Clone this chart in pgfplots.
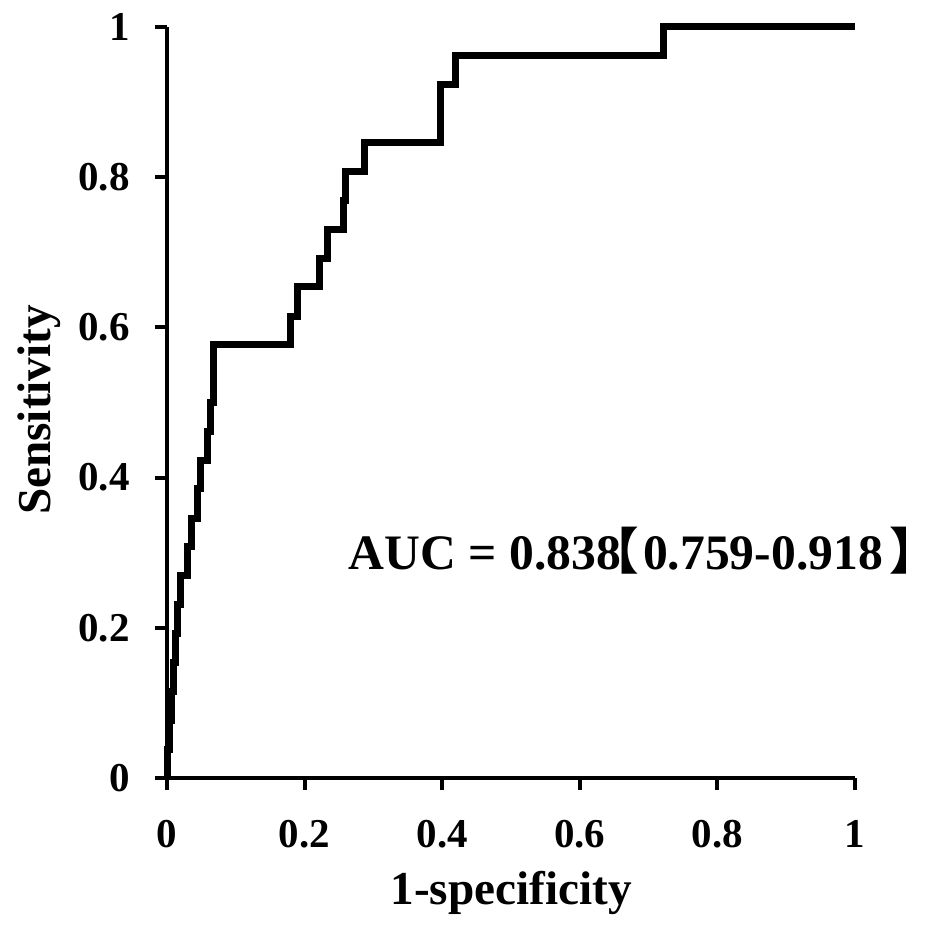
\documentclass[border=0pt]{standalone}
\usepackage{fontspec}
\setmainfont{Liberation Serif}
\newfontfamily\cjk{Noto Sans CJK SC}
\usepackage{pgfplots}
\pgfplotsset{compat=1.18}
\newdimen\glsb \newdimen\grsb
\def\tightchar#1{{\cjk\bfseries
  \glsb=\XeTeXglyphbounds1 \XeTeXcharglyph`#1\relax
  \grsb=\XeTeXglyphbounds3 \XeTeXcharglyph`#1\relax
  \kern-\glsb #1\kern-\grsb}}
\begin{document}
\begin{tikzpicture}
\path[use as bounding box] (0,0) rectangle (472.5pt,466.5pt);
\begin{axis}[
  at={(83.5pt,77.5pt)}, anchor=south west,
  width=344pt, height=375.5pt, scale only axis,
  xmin=0, xmax=1, ymin=0, ymax=1,
  clip=false,
  axis x line=bottom, axis y line=left,
  axis line style={line width=2pt, -},
  tick align=outside, major tick length=6pt,
  tick style={line width=2pt, black},
  xtick={0,0.2,0.4,0.6,0.8,1}, xticklabels={0,0.2,0.4,0.6,0.8,1},
  ytick={0,0.2,0.4,0.6,0.8,1}, yticklabels={0,0.2,0.4,0.6,0.8,1},
  ticklabel style={font=\fontsize{20.5pt}{24pt}\selectfont\bfseries, inner sep=0pt},
  yticklabel style={anchor=east, xshift=-12.5pt},
  xticklabel style={anchor=north, yshift=-15pt},
  xlabel={1-specificity}, ylabel={Sensitivity},
  label style={font=\fontsize{23.6pt}{28pt}\selectfont\bfseries, inner sep=0pt},
  xlabel style={at={(axis description cs:0.5,-0.169)}, anchor=base},
  ylabel style={at={(axis description cs:-0.170,0.49)}, anchor=base, rotate=0},
]
\addplot[black, line width=3.5pt, mark=none] coordinates {
(0,0) (0,0.038) (0.004,0.038) (0.004,0.077) (0.007,0.077) (0.007,0.115)
(0.009,0.115) (0.009,0.154) (0.012,0.154) (0.012,0.192) (0.015,0.192)
(0.015,0.231) (0.019,0.231) (0.019,0.269) (0.030,0.269) (0.030,0.308)
(0.035,0.308) (0.035,0.346) (0.044,0.346) (0.044,0.385) (0.048,0.385)
(0.048,0.423) (0.059,0.423) (0.059,0.462) (0.063,0.462) (0.063,0.500)
(0.067,0.500) (0.067,0.577) (0.179,0.577) (0.179,0.615) (0.189,0.615)
(0.189,0.654) (0.222,0.654) (0.222,0.692) (0.234,0.692) (0.234,0.731)
(0.256,0.731) (0.256,0.769) (0.260,0.769) (0.260,0.808) (0.287,0.808)
(0.287,0.846) (0.397,0.846) (0.397,0.923) (0.419,0.923) (0.419,0.962)
(0.721,0.962) (0.721,1) (1,1)
};
\node[anchor=base west, inner sep=0pt, font=\fontsize{24.8pt}{30pt}\selectfont\bfseries]
  at (axis cs:0.2635,0.277) {AUC = 0.838\kern0.8pt\tightchar{【}\kern2.5pt0.759-0.918\kern4pt\tightchar{】}};
\end{axis}
\end{tikzpicture}
\end{document}
